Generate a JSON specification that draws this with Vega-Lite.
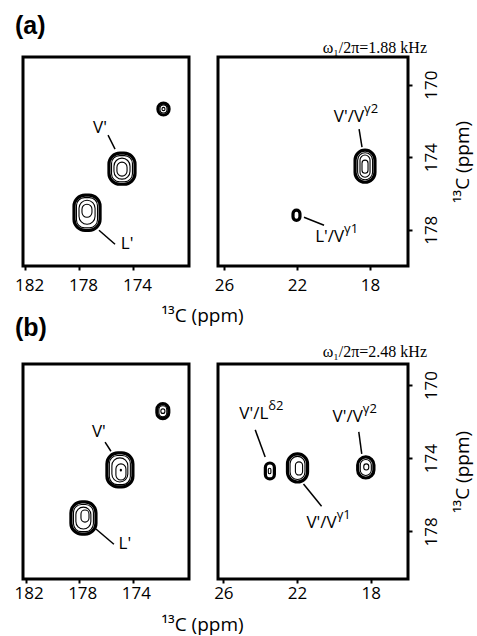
{
  "$schema": "https://vega.github.io/schema/vega-lite/v6.json",
  "padding": {"left": 12, "top": 12, "right": 0, "bottom": 0},
  "background": "white",
  "config": {
    "view": {"stroke": "black", "strokeWidth": 3},
    "font": "Open Sans",
    "axis": {"domain": false, "grid": false, "tickColor": "black", "tickWidth": 2, "tickSize": 4, "labelFont": "Open Sans", "labelFontSize": 17, "labelColor": "black", "labelFlush": false, "titleFont": "Open Sans", "titleFontSize": 19, "titleFontWeight": "normal", "titleColor": "black"},
    "text": {"font": "Open Sans", "fontSize": 17, "color": "black"}
  },
  "datasets": {
    "contours": [
      {"panel": "aL", "peak": "V'", "level": 1, "x": 175.78, "x2": 173.85, "y": 173.77, "y2": 175.49},
      {"panel": "aL", "peak": "V'", "level": 2, "x": 175.59, "x2": 174.04, "y": 173.91, "y2": 175.35},
      {"panel": "aL", "peak": "V'", "level": 3, "x": 175.41, "x2": 174.22, "y": 174.05, "y2": 175.21},
      {"panel": "aL", "peak": "V'", "level": 4, "x": 175.19, "x2": 174.44, "y": 174.27, "y2": 175.04},
      {"panel": "aL", "peak": "L'", "level": 1, "x": 178.37, "x2": 176.44, "y": 176.09, "y2": 178.03},
      {"panel": "aL", "peak": "L'", "level": 2, "x": 178.19, "x2": 176.63, "y": 176.23, "y2": 177.89},
      {"panel": "aL", "peak": "L'", "level": 3, "x": 178.0, "x2": 176.81, "y": 176.37, "y2": 177.7},
      {"panel": "aL", "peak": "L'", "level": 4, "x": 177.78, "x2": 177.04, "y": 176.59, "y2": 177.31},
      {"panel": "aL", "peak": "s", "level": 1, "x": 172.15, "x2": 171.33, "y": 171.01, "y2": 171.67},
      {"panel": "aL", "peak": "s", "level": 2, "x": 172.0, "x2": 171.48, "y": 171.12, "y2": 171.56},
      {"panel": "aL", "peak": "s", "level": 4, "x": 171.85, "x2": 171.63, "y": 171.25, "y2": 171.43},
      {"panel": "aR", "peak": "Vg2", "level": 1, "x": 18.82, "x2": 17.73, "y": 173.61, "y2": 175.38},
      {"panel": "aR", "peak": "Vg2", "level": 2, "x": 18.68, "x2": 17.86, "y": 173.75, "y2": 175.24},
      {"panel": "aR", "peak": "Vg2", "level": 3, "x": 18.55, "x2": 18.0, "y": 173.88, "y2": 175.1},
      {"panel": "aR", "peak": "Vg2", "level": 4, "x": 18.44, "x2": 18.11, "y": 174.16, "y2": 174.88},
      {"panel": "aR", "peak": "Lg1", "level": 1, "x": 22.22, "x2": 21.84, "y": 176.92, "y2": 177.48},
      {"panel": "bL", "peak": "V'", "level": 1, "x": 175.93, "x2": 173.99, "y": 173.71, "y2": 175.57},
      {"panel": "bL", "peak": "V'", "level": 2, "x": 175.75, "x2": 174.18, "y": 173.85, "y2": 175.44},
      {"panel": "bL", "peak": "V'", "level": 3, "x": 175.56, "x2": 174.37, "y": 173.98, "y2": 175.3},
      {"panel": "bL", "peak": "V'", "level": 4, "x": 175.26, "x2": 174.51, "y": 174.31, "y2": 175.19},
      {"panel": "bL", "peak": "V'", "level": 5, "x": 174.93, "x2": 174.85, "y": 174.6, "y2": 174.7},
      {"panel": "bL", "peak": "L'", "level": 1, "x": 178.62, "x2": 176.75, "y": 176.39, "y2": 178.15},
      {"panel": "bL", "peak": "L'", "level": 2, "x": 178.43, "x2": 176.94, "y": 176.53, "y2": 178.01},
      {"panel": "bL", "peak": "L'", "level": 3, "x": 178.25, "x2": 177.13, "y": 176.67, "y2": 177.87},
      {"panel": "bL", "peak": "L'", "level": 4, "x": 177.87, "x2": 177.27, "y": 176.83, "y2": 177.49},
      {"panel": "bL", "peak": "s", "level": 1, "x": 172.2, "x2": 171.31, "y": 171.02, "y2": 171.84},
      {"panel": "bL", "peak": "s", "level": 2, "x": 172.05, "x2": 171.46, "y": 171.13, "y2": 171.73},
      {"panel": "bL", "peak": "s", "level": 4, "x": 171.9, "x2": 171.6, "y": 171.3, "y2": 171.55},
      {"panel": "bR", "peak": "Ld2", "level": 1, "x": 23.72, "x2": 23.23, "y": 174.26, "y2": 175.13},
      {"panel": "bR", "peak": "Ld2", "level": 4, "x": 23.56, "x2": 23.42, "y": 174.55, "y2": 174.85},
      {"panel": "bR", "peak": "Vg1", "level": 1, "x": 22.52, "x2": 21.43, "y": 173.76, "y2": 175.3},
      {"panel": "bR", "peak": "Vg1", "level": 2, "x": 22.38, "x2": 21.57, "y": 173.9, "y2": 175.16},
      {"panel": "bR", "peak": "Vg1", "level": 3, "x": 22.09, "x2": 21.7, "y": 174.2, "y2": 174.92},
      {"panel": "bR", "peak": "Vg2", "level": 1, "x": 18.71, "x2": 17.83, "y": 173.93, "y2": 175.08},
      {"panel": "bR", "peak": "Vg2", "level": 2, "x": 18.57, "x2": 17.97, "y": 174.07, "y2": 174.94},
      {"panel": "bR", "peak": "Vg2", "level": 4, "x": 18.38, "x2": 18.11, "y": 174.31, "y2": 174.64}
    ],
    "plain": [
      {"panel": "aL", "label": "V'", "x": 176.44, "y": 172.39},
      {"panel": "aL", "label": "L'", "x": 174.44, "y": 178.8},
      {"panel": "bL", "label": "V'", "x": 176.53, "y": 172.56},
      {"panel": "bL", "label": "L'", "x": 174.59, "y": 178.7}
    ],
    "comp": [
      {"panel": "aR", "base": "V'/V", "sup": "γ2", "x": 18.33, "y": 171.78},
      {"panel": "aR", "base": "L'/V", "sup": "γ1", "x": 19.42, "y": 178.41},
      {"panel": "bR", "base": "V'/L", "sup": "δ2", "x": 23.56, "y": 171.57},
      {"panel": "bR", "base": "V'/V", "sup": "γ2", "x": 18.43, "y": 171.74},
      {"panel": "bR", "base": "V'/V", "sup": "γ1", "x": 19.85, "y": 177.55}
    ],
    "leaders": [
      {"panel": "aL", "x": 175.85, "x2": 175.33, "y": 172.78, "y2": 173.55},
      {"panel": "aL", "x": 176.52, "x2": 175.33, "y": 178.03, "y2": 178.8},
      {"panel": "aR", "x": 18.6, "x2": 18.44, "y": 172.45, "y2": 173.44},
      {"panel": "aR", "x": 21.62, "x2": 20.52, "y": 177.31, "y2": 177.75},
      {"panel": "bL", "x": 176.07, "x2": 175.63, "y": 173.12, "y2": 173.62},
      {"panel": "bL", "x": 176.75, "x2": 175.41, "y": 177.87, "y2": 178.7},
      {"panel": "bR", "x": 24.27, "x2": 23.73, "y": 172.45, "y2": 173.93},
      {"panel": "bR", "x": 18.65, "x2": 18.49, "y": 172.56, "y2": 173.76},
      {"panel": "bR", "x": 21.65, "x2": 20.67, "y": 175.41, "y2": 176.62}
    ]
  },
  "bounds": "flush",
  "columns": 2,
  "spacing": {"row": 98, "column": 29},
  "concat": [
    {
      "width": 166, "height": 209,
      "title": {"text": "(a)", "anchor": "start", "frame": "group", "dx": -8, "font": "Liberation Sans", "fontSize": 25, "fontWeight": "bold", "baseline": "alphabetic", "offset": -2, "color": "black"},
      "encoding": {
        "x": {"field": "x", "type": "quantitative", "scale": {"domain": [169.85, 182.15], "reverse": true, "nice": false, "zero": false},
              "axis": {"values": [182, 178, 174], "labelOffset": 4, "labelPadding": 7, "title": "¹³C (ppm)", "titleX": 179, "titleY": 55, "titleAlign": "center", "titleBaseline": "alphabetic"}},
        "y": {"field": "y", "type": "quantitative", "scale": {"domain": [168.47, 180], "reverse": true, "nice": false, "zero": false}, "axis": null}
      },
      "layer": [
        {"data": {"name": "contours"}, "transform": [{"filter": "datum.panel === 'aL' && datum.level === 1"}],
         "mark": {"type": "rect", "fillOpacity": 0, "stroke": "black", "strokeWidth": 3.2, "cornerRadius": 11},
         "encoding": {"x2": {"field": "x2"}, "y2": {"field": "y2"}}},
        {"data": {"name": "contours"}, "transform": [{"filter": "datum.panel === 'aL' && datum.level > 1"}],
         "mark": {"type": "rect", "fillOpacity": 0, "stroke": "black", "strokeWidth": 1.1, "cornerRadius": 8},
         "encoding": {"x2": {"field": "x2"}, "y2": {"field": "y2"}}},
        {"data": {"name": "leaders"}, "transform": [{"filter": "datum.panel === 'aL'"}],
         "mark": {"type": "rule", "color": "black", "strokeWidth": 1.5},
         "encoding": {"x2": {"field": "x2"}, "y2": {"field": "y2"}}},
        {"data": {"name": "plain"}, "transform": [{"filter": "datum.panel === 'aL'"}],
         "mark": {"type": "text", "align": "center", "baseline": "middle", "fontSize": 17},
         "encoding": {"text": {"field": "label", "type": "nominal"}}}
      ]
    },
    {
      "width": 190, "height": 209,
      "title": {"text": "ω₁/2π=1.88 kHz", "anchor": "end", "frame": "group", "dx": 19, "font": "Liberation Serif", "fontSize": 16, "fontWeight": "normal", "baseline": "alphabetic", "offset": -12, "color": "black"},
      "encoding": {
        "x": {"field": "x", "type": "quantitative", "scale": {"domain": [15.92, 26.33], "reverse": true, "nice": false, "zero": false},
              "axis": {"values": [26, 22, 18], "labelPadding": 7, "title": null}},
        "y": {"field": "y", "type": "quantitative", "scale": {"domain": [168.47, 180], "reverse": true, "nice": false, "zero": false},
              "axis": {"orient": "right", "values": [170, 174, 178], "labelAngle": 270, "labelAlign": "center", "labelBaseline": "top", "labelPadding": 11, "title": "¹³C (ppm)", "titleAngle": 270, "titleBaseline": "top", "titleAlign": "center", "titlePadding": 14}}
      },
      "layer": [
        {"data": {"name": "contours"}, "transform": [{"filter": "datum.panel === 'aR' && datum.level === 1"}],
         "mark": {"type": "rect", "fillOpacity": 0, "stroke": "black", "strokeWidth": 3.2, "cornerRadius": 11},
         "encoding": {"x2": {"field": "x2"}, "y2": {"field": "y2"}}},
        {"data": {"name": "contours"}, "transform": [{"filter": "datum.panel === 'aR' && datum.level > 1"}],
         "mark": {"type": "rect", "fillOpacity": 0, "stroke": "black", "strokeWidth": 1.1, "cornerRadius": 8},
         "encoding": {"x2": {"field": "x2"}, "y2": {"field": "y2"}}},
        {"data": {"name": "leaders"}, "transform": [{"filter": "datum.panel === 'aR'"}],
         "mark": {"type": "rule", "color": "black", "strokeWidth": 1.5},
         "encoding": {"x2": {"field": "x2"}, "y2": {"field": "y2"}}},
        {"data": {"name": "comp"}, "transform": [{"filter": "datum.panel === 'aR'"}],
         "mark": {"type": "text", "align": "right", "baseline": "middle", "fontSize": 17},
         "encoding": {"text": {"field": "base", "type": "nominal"}}},
        {"data": {"name": "comp"}, "transform": [{"filter": "datum.panel === 'aR'"}],
         "mark": {"type": "text", "align": "left", "baseline": "middle", "fontSize": 13, "dy": -8},
         "encoding": {"text": {"field": "sup", "type": "nominal"}}}
      ]
    },
    {
      "width": 166, "height": 215,
      "title": {"text": "(b)", "anchor": "start", "frame": "group", "dx": -8, "font": "Liberation Sans", "fontSize": 25, "fontWeight": "bold", "baseline": "alphabetic", "offset": 3, "color": "black"},
      "encoding": {
        "x": {"field": "x", "type": "quantitative", "scale": {"domain": [169.8, 182.2], "reverse": true, "nice": false, "zero": false},
              "axis": {"values": [182, 178, 174], "labelOffset": 3, "labelPadding": 2, "title": "¹³C (ppm)", "titleX": 179, "titleY": 51, "titleAlign": "center", "titleBaseline": "alphabetic"}},
        "y": {"field": "y", "type": "quantitative", "scale": {"domain": [168.85, 180.6], "reverse": true, "nice": false, "zero": false}, "axis": null}
      },
      "layer": [
        {"data": {"name": "contours"}, "transform": [{"filter": "datum.panel === 'bL' && datum.level === 1"}],
         "mark": {"type": "rect", "fillOpacity": 0, "stroke": "black", "strokeWidth": 3.2, "cornerRadius": 11},
         "encoding": {"x2": {"field": "x2"}, "y2": {"field": "y2"}}},
        {"data": {"name": "contours"}, "transform": [{"filter": "datum.panel === 'bL' && datum.level > 1"}],
         "mark": {"type": "rect", "fillOpacity": 0, "stroke": "black", "strokeWidth": 1.1, "cornerRadius": 8},
         "encoding": {"x2": {"field": "x2"}, "y2": {"field": "y2"}}},
        {"data": {"name": "leaders"}, "transform": [{"filter": "datum.panel === 'bL'"}],
         "mark": {"type": "rule", "color": "black", "strokeWidth": 1.5},
         "encoding": {"x2": {"field": "x2"}, "y2": {"field": "y2"}}},
        {"data": {"name": "plain"}, "transform": [{"filter": "datum.panel === 'bL'"}],
         "mark": {"type": "text", "align": "center", "baseline": "middle", "fontSize": 17},
         "encoding": {"text": {"field": "label", "type": "nominal"}}}
      ]
    },
    {
      "width": 190, "height": 215,
      "title": {"text": "ω₁/2π=2.48 kHz", "anchor": "end", "frame": "group", "dx": 19, "font": "Liberation Serif", "fontSize": 16, "fontWeight": "normal", "baseline": "alphabetic", "offset": -9, "color": "black"},
      "encoding": {
        "x": {"field": "x", "type": "quantitative", "scale": {"domain": [15.98, 26.29], "reverse": true, "nice": false, "zero": false},
              "axis": {"values": [26, 22, 18], "labelPadding": 2, "title": null}},
        "y": {"field": "y", "type": "quantitative", "scale": {"domain": [168.85, 180.6], "reverse": true, "nice": false, "zero": false},
              "axis": {"orient": "right", "values": [170, 174, 178], "labelAngle": 270, "labelAlign": "center", "labelBaseline": "top", "labelPadding": 11, "title": "¹³C (ppm)", "titleAngle": 270, "titleBaseline": "top", "titleAlign": "center", "titlePadding": 14}}
      },
      "layer": [
        {"data": {"name": "contours"}, "transform": [{"filter": "datum.panel === 'bR' && datum.level === 1"}],
         "mark": {"type": "rect", "fillOpacity": 0, "stroke": "black", "strokeWidth": 3.2, "cornerRadius": 11},
         "encoding": {"x2": {"field": "x2"}, "y2": {"field": "y2"}}},
        {"data": {"name": "contours"}, "transform": [{"filter": "datum.panel === 'bR' && datum.level > 1"}],
         "mark": {"type": "rect", "fillOpacity": 0, "stroke": "black", "strokeWidth": 1.1, "cornerRadius": 8},
         "encoding": {"x2": {"field": "x2"}, "y2": {"field": "y2"}}},
        {"data": {"name": "leaders"}, "transform": [{"filter": "datum.panel === 'bR'"}],
         "mark": {"type": "rule", "color": "black", "strokeWidth": 1.5},
         "encoding": {"x2": {"field": "x2"}, "y2": {"field": "y2"}}},
        {"data": {"name": "comp"}, "transform": [{"filter": "datum.panel === 'bR'"}],
         "mark": {"type": "text", "align": "right", "baseline": "middle", "fontSize": 17},
         "encoding": {"text": {"field": "base", "type": "nominal"}}},
        {"data": {"name": "comp"}, "transform": [{"filter": "datum.panel === 'bR'"}],
         "mark": {"type": "text", "align": "left", "baseline": "middle", "fontSize": 13, "dy": -8},
         "encoding": {"text": {"field": "sup", "type": "nominal"}}}
      ]
    }
  ]
}
